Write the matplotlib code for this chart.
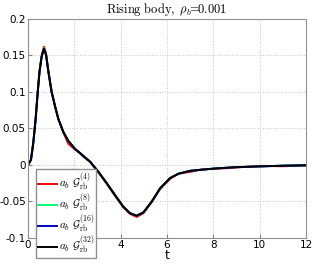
import matplotlib
matplotlib.use("Agg")
import matplotlib.pyplot as plt

plt.rcParams['mathtext.fontset'] = 'cm'

# time samples and read-off values of the force signal
t = [0.0, 0.13, 0.23, 0.33, 0.42, 0.5, 0.59, 0.69, 0.78, 0.88, 1.02, 1.17,
     1.31, 1.53, 1.74, 2.03, 2.24, 2.4, 2.68, 3.03, 3.4, 3.75, 4.11, 4.4,
     4.69, 4.98, 5.34, 5.7, 6.13, 6.49, 7.0, 7.5, 8.0, 9.0, 10.0, 11.0, 12.0]
g32 = [0.0, 0.007, 0.030, 0.062, 0.099, 0.128, 0.148, 0.159, 0.151, 0.128,
       0.100, 0.080, 0.063, 0.045, 0.033, 0.022, 0.0165, 0.012, 0.0045, -0.009,
       -0.025, -0.041, -0.057, -0.066, -0.0695, -0.065, -0.050, -0.032, -0.018,
       -0.012, -0.008, -0.0065, -0.005, -0.003, -0.002, -0.001, -0.0005]
g16 = list(g32)
g8 = [0.0, 0.007, 0.030, 0.062, 0.099, 0.128, 0.148, 0.160, 0.151, 0.128,
      0.100, 0.080, 0.063, 0.045, 0.033, 0.022, 0.0165, 0.012, 0.0045, -0.009,
      -0.025, -0.041, -0.057, -0.066, -0.0698, -0.065, -0.050, -0.032, -0.018,
      -0.012, -0.008, -0.0065, -0.005, -0.003, -0.002, -0.001, -0.0005]
g4 = [0.0, 0.007, 0.031, 0.063, 0.100, 0.129, 0.150, 0.162, 0.153, 0.129,
      0.101, 0.081, 0.063, 0.044, 0.029, 0.021, 0.016, 0.011, 0.004, -0.010,
      -0.026, -0.042, -0.058, -0.067, -0.0712, -0.066, -0.051, -0.033, -0.019,
      -0.012, -0.0095, -0.006, -0.0055, -0.0035, -0.0012, -0.0018, -0.0005]

labels = [r'$a_b\ \mathcal{G}_{\rm rb}^{(4)}$', r'$a_b\ \mathcal{G}_{\rm rb}^{(8)}$',
          r'$a_b\ \mathcal{G}_{\rm rb}^{(16)}$', r'$a_b\ \mathcal{G}_{\rm rb}^{(32)}$']
colors = ['#ff0000', '#00ff80', '#0000cc', '#000000']

fig = plt.figure(figsize=(3.14, 2.64), dpi=100)
ax = fig.add_axes([0.089, 0.0985, 0.886, 0.83])

for y, c, lab in zip([g4, g8, g16, g32], colors, labels):
    ax.plot(t, y, color=c, lw=1.4, label=lab)

ax.set_xlim(0, 12)
ax.set_ylim(-0.1, 0.2)
ax.set_xticks([0, 2, 4, 6, 8, 10, 12])
ax.set_yticks([-0.1, -0.05, 0, 0.05, 0.1, 0.15, 0.2])
ax.set_yticklabels(['-0.1', '-0.05', '0', '0.05', '0.1', '0.15', '0.2'])
ax.tick_params(direction='in', length=3, labelsize=7.5, color='#808080', pad=1.5)
ax.grid(True, ls=':', color='#c8c8c8', lw=0.7)
for s in ax.spines.values():
    s.set_color('#909090')

ax.set_xlabel('t', fontsize=9, labelpad=-1)
ax.set_title(r'$\mathrm{Rising\ body,}\ \rho_b\!\!=\!\!\mathrm{0.001}$', fontsize=9, pad=4)

leg = ax.legend(loc='lower left', bbox_to_anchor=(0.029, -0.091), fontsize=8,
                handlelength=1.7, handletextpad=0.2, borderpad=0.15, labelspacing=-0.1,
                fancybox=False, framealpha=1, borderaxespad=0)
leg.get_frame().set_edgecolor('#909090')

fig.savefig('out.png', dpi=100)
